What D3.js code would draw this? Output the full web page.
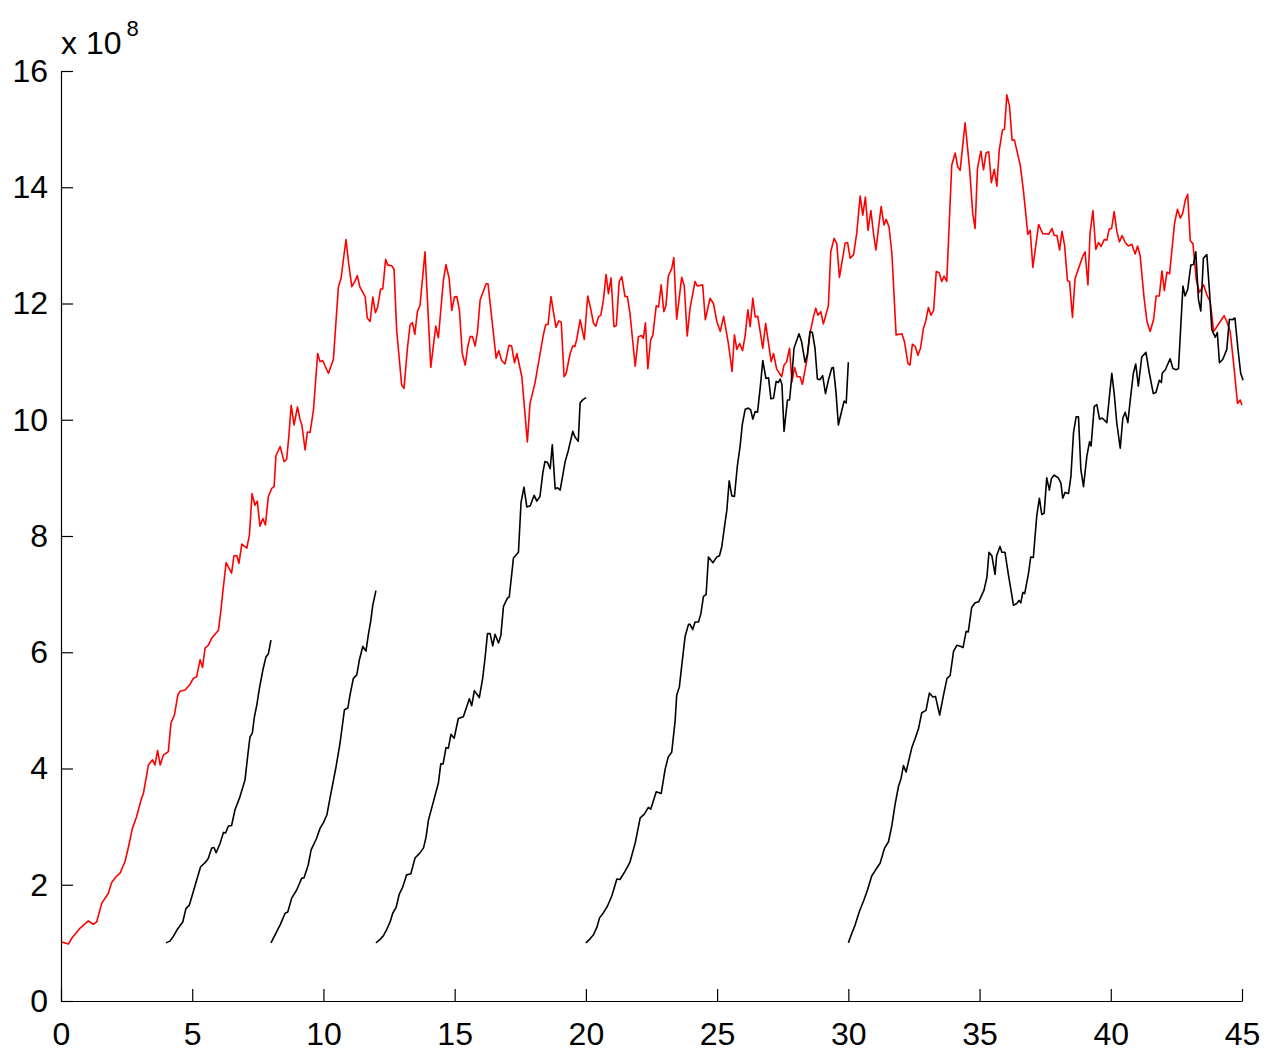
<!DOCTYPE html>
<html>
<head>
<meta charset="utf-8">
<script src="https://cdn.jsdelivr.net/npm/d3@7"></script>
<style>
  html, body { margin: 0; padding: 0; background: #fff; }
  svg { display: block; }
  text { font-family: "Liberation Sans", Arial, Helvetica, sans-serif; fill: #000; }
</style>
</head>
<body>
<svg id="chart" width="1280" height="1055"></svg>
<script>
// ---------- data (y in units of 1e8) ----------
const xTicks = [0, 5, 10, 15, 20, 25, 30, 35, 40, 45];
const yTicks = [0, 2, 4, 6, 8, 10, 12, 14, 16];
const exponentLabel = "x 10";
const exponentPower = "8";

const redX = [0,0.28,0.41,0.72,1.04,1.23,1.36,1.55,1.80,1.93,2.12,2.25,2.44,2.57,2.72,2.88,3.05,3.14,3.33,3.49,3.58,3.68,3.78,3.90,4.09,4.19,4.32,4.45,4.54,4.73,4.92,5.04,5.17,5.30,5.39,5.49,5.61,5.74,6.00,6.08,6.16,6.29,6.50,6.59,6.70,6.78,6.89,7.08,7.18,7.28,7.39,7.48,7.58,7.69,7.79,7.90,8.03,8.12,8.19,8.35,8.50,8.60,8.68,8.77,8.88,9.01,9.11,9.18,9.30,9.39,9.49,9.62,9.78,9.87,9.97,10.19,10.38,10.57,10.67,10.79,10.86,10.96,11.08,11.20,11.29,11.39,11.59,11.67,11.78,11.88,11.98,12.06,12.18,12.26,12.37,12.45,12.60,12.69,12.79,12.98,13.07,13.20,13.30,13.39,13.48,13.58,13.68,13.87,14.09,14.28,14.38,14.57,14.67,14.79,14.89,14.99,15.08,15.18,15.29,15.40,15.50,15.59,15.68,15.78,15.87,15.97,16.20,16.27,16.42,16.58,16.68,16.79,16.92,17.07,17.17,17.28,17.37,17.56,17.77,17.87,18.06,18.38,18.47,18.56,18.67,18.86,18.97,19.06,19.17,19.25,19.40,19.50,19.58,19.65,19.78,19.94,20.07,20.16,20.29,20.38,20.48,20.57,20.67,20.77,20.86,20.96,21.07,21.16,21.27,21.37,21.49,21.58,21.68,21.88,22.00,22.12,22.19,22.27,22.36,22.47,22.55,22.68,22.77,22.87,22.97,23.05,23.14,23.27,23.35,23.46,23.65,23.75,23.86,23.97,24.16,24.25,24.45,24.55,24.73,24.86,24.99,25.12,25.25,25.43,25.57,25.66,25.75,25.86,25.97,26.07,26.17,26.26,26.36,26.45,26.55,26.74,26.85,27.06,27.15,27.27,27.46,27.55,27.65,27.76,27.85,27.95,28.05,28.16,28.25,28.42,28.54,28.67,28.76,28.84,28.95,29.05,29.24,29.33,29.46,29.56,29.66,29.88,29.97,30.07,30.20,30.32,30.45,30.55,30.65,30.75,30.86,30.96,31.05,31.25,31.36,31.44,31.55,31.66,31.82,32.04,32.14,32.27,32.35,32.44,32.55,32.65,32.75,32.86,32.95,33.05,33.15,33.25,33.35,33.46,33.56,33.65,33.75,33.94,34.07,34.17,34.26,34.45,34.62,34.74,34.83,34.92,35.05,35.15,35.25,35.35,35.45,35.56,35.66,35.75,35.87,35.95,36.04,36.14,36.24,36.33,36.55,36.67,36.84,36.93,37.03,37.25,37.41,37.55,37.63,37.76,37.85,37.95,38.05,38.14,38.24,38.35,38.43,38.54,38.64,38.77,38.94,39.02,39.13,39.21,39.32,39.43,39.53,39.63,39.75,39.85,39.94,40.03,40.13,40.23,40.33,40.43,40.55,40.67,40.80,40.93,41.02,41.12,41.27,41.38,41.50,41.63,41.73,41.85,41.95,42.04,42.14,42.24,42.43,42.54,42.65,42.74,42.84,42.93,43.03,43.13,43.26,43.38,43.54,43.66,43.79,43.92,44.04,44.17,44.32,44.42,44.55,44.68,44.83,44.93,45.00];
const redY = [1.02,0.98,1.08,1.25,1.38,1.32,1.36,1.68,1.85,2.04,2.15,2.20,2.40,2.65,2.97,3.17,3.46,3.57,4.06,4.15,4.06,4.31,4.06,4.23,4.29,4.78,4.92,5.26,5.33,5.35,5.45,5.55,5.58,5.87,5.74,6.07,6.12,6.24,6.38,6.67,7.01,7.54,7.36,7.66,7.66,7.53,7.86,7.79,8.02,8.73,8.53,8.60,8.17,8.30,8.19,8.68,8.82,8.85,9.38,9.54,9.28,9.32,9.71,10.25,9.91,10.22,10.00,9.91,9.48,9.79,9.78,10.17,11.14,11.00,11.02,10.80,11.04,12.29,12.43,12.86,13.10,12.69,12.29,12.38,12.48,12.28,12.12,11.75,11.69,12.11,11.84,11.93,12.25,12.25,12.76,12.66,12.65,12.59,11.54,10.60,10.54,11.23,11.63,11.67,11.47,11.86,11.97,12.89,10.90,11.61,11.41,12.40,12.67,12.43,11.88,12.11,12.12,11.89,11.14,10.94,11.26,11.43,11.43,11.27,11.52,12.06,12.34,12.34,11.72,11.06,11.19,11.02,10.96,11.28,11.27,10.98,11.14,10.74,9.62,10.28,10.63,11.46,11.64,11.64,12.12,11.59,11.70,11.68,10.74,10.80,11.14,11.27,11.26,11.38,11.72,11.38,12.13,11.96,11.66,11.61,11.77,11.80,12.07,12.50,12.17,12.44,11.60,11.62,12.38,12.46,12.12,12.12,11.83,10.92,11.43,11.45,11.40,11.67,10.88,11.38,11.45,11.96,11.94,12.32,11.86,11.96,12.47,12.60,12.79,11.73,12.45,12.30,11.44,11.92,12.38,12.30,12.32,11.72,12.09,12.00,11.69,11.52,11.78,11.31,10.83,11.46,11.21,11.31,11.19,11.45,11.89,11.60,12.09,11.77,11.78,11.23,11.66,11.00,11.14,10.87,10.74,10.94,11.00,11.23,10.65,10.90,10.74,10.74,10.61,11.03,11.49,11.77,11.92,11.80,11.86,11.65,11.96,12.89,13.12,13.03,12.45,13.04,13.05,12.78,12.84,13.21,13.85,13.52,13.83,13.26,13.60,13.20,12.92,13.67,13.35,13.45,13.32,12.86,11.46,11.48,11.34,10.97,10.94,11.30,11.26,11.11,11.23,11.57,11.70,11.93,11.80,11.88,12.55,12.53,12.38,12.47,12.38,14.38,14.59,14.35,14.29,15.11,14.32,13.55,13.29,14.32,14.62,14.30,14.59,14.61,14.08,14.31,14.02,14.64,14.98,15.00,15.59,15.40,14.81,14.81,14.38,13.95,13.19,13.26,12.62,13.36,13.20,13.20,13.19,13.29,13.17,13.17,12.92,13.24,13.00,12.39,12.38,11.76,12.43,12.60,12.82,12.89,12.32,13.21,13.60,12.93,13.05,12.98,13.10,13.09,13.28,13.29,13.58,13.24,13.06,13.17,13.05,12.99,13.02,12.85,12.99,12.82,12.09,11.69,11.52,11.72,12.13,12.13,12.56,12.22,12.54,12.51,13.38,13.62,13.47,13.55,13.78,13.88,13.08,13.03,12.40,12.19,12.32,12.15,12.03,11.52,11.60,11.69,11.79,11.69,11.52,10.97,10.28,10.34,10.25];

const black1X = [4.00,4.15,4.28,4.43,4.64,4.76,4.89,5.04,5.17,5.32,5.49,5.61,5.74,5.83,5.91,6.06,6.19,6.27,6.38,6.50,6.63,6.80,7.01,7.11,7.20,7.29,7.37,7.46,7.56,7.69,7.81,7.90,8.00];
const black1Y = [1.00,1.03,1.11,1.23,1.36,1.59,1.65,1.88,2.08,2.31,2.38,2.45,2.63,2.64,2.55,2.71,2.90,2.89,3.01,3.02,3.29,3.49,3.80,4.20,4.54,4.61,4.89,5.09,5.38,5.69,5.92,5.97,6.21];

const black2X = [8.00,8.16,8.35,8.54,8.64,8.79,8.98,9.17,9.26,9.42,9.53,9.74,9.87,10.00,10.13,10.25,10.48,10.63,10.80,10.93,11.01,11.14,11.27,11.37,11.50,11.62,11.71,11.80,11.88,12.00];
const black2Y = [1.00,1.14,1.31,1.51,1.53,1.77,1.91,2.11,2.12,2.34,2.60,2.80,2.97,3.07,3.20,3.49,4.03,4.43,5.01,5.04,5.26,5.55,5.61,5.87,6.10,6.02,6.30,6.53,6.81,7.06];

const black3X = [12.00,12.16,12.28,12.41,12.54,12.64,12.77,12.89,13.02,13.17,13.33,13.49,13.66,13.81,13.91,14.00,14.19,14.38,14.47,14.56,14.67,14.76,14.86,14.98,15.14,15.33,15.56,15.65,15.75,15.94,16.07,16.16,16.25,16.35,16.45,16.54,16.67,16.76,16.86,17.01,17.08,17.24,17.43,17.53,17.64,17.75,17.88,18.03,18.13,18.25,18.36,18.44,18.53,18.64,18.72,18.83,18.92,19.02,19.21,19.33,19.50,19.59,19.71,19.78,19.90,20.01];
const black3Y = [1.00,1.06,1.12,1.23,1.36,1.51,1.61,1.84,1.96,2.17,2.19,2.46,2.54,2.63,2.82,3.11,3.43,3.75,4.08,4.08,4.36,4.35,4.59,4.52,4.86,4.89,5.20,5.08,5.34,5.22,5.56,5.91,6.32,6.32,6.11,6.31,6.16,6.29,6.79,6.93,6.95,7.62,7.72,8.58,8.84,8.50,8.52,8.70,8.60,8.68,9.09,9.28,9.27,9.16,9.57,8.81,8.83,8.79,9.28,9.47,9.80,9.70,9.63,10.29,10.35,10.38];

const black4X = [20.00,20.16,20.29,20.42,20.52,20.67,20.82,20.99,21.18,21.30,21.49,21.68,21.88,22.07,22.22,22.38,22.47,22.68,22.87,23.02,23.14,23.27,23.40,23.46,23.56,23.65,23.78,23.91,23.97,24.07,24.16,24.29,24.38,24.48,24.58,24.67,24.84,24.99,25.09,25.18,25.30,25.37,25.46,25.56,25.66,25.77,25.88,25.96,26.07,26.19,26.28,26.36,26.45,26.54,26.64,26.74,26.86,26.96,27.05,27.15,27.25,27.33,27.40,27.47,27.55,27.68,27.76,27.85,27.93,28.12,28.22,28.35,28.44,28.54,28.63,28.73,28.82,28.92,29.02,29.13,29.24,29.37,29.43,29.53,29.62,29.75,29.84,29.92,30.00];
const black4Y = [1.00,1.07,1.14,1.27,1.43,1.52,1.63,1.81,2.10,2.09,2.23,2.39,2.72,3.15,3.21,3.33,3.30,3.60,3.57,3.99,4.20,4.28,4.82,5.26,5.40,5.76,6.27,6.48,6.48,6.39,6.52,6.52,6.66,6.96,6.99,7.64,7.54,7.64,7.66,7.82,8.22,8.44,8.95,8.69,8.68,9.20,9.56,9.92,10.18,10.20,10.17,10.01,10.14,10.13,10.54,11.02,10.71,10.72,10.36,10.37,10.66,10.64,10.70,10.61,9.80,10.34,10.34,10.76,11.23,11.48,11.34,10.99,11.12,11.52,11.50,11.23,10.70,10.69,10.76,10.45,10.68,10.89,10.90,10.47,9.91,10.16,10.32,10.29,10.99];

const black5X = [30.00,30.13,30.26,30.42,30.58,30.73,30.89,31.06,31.21,31.38,31.53,31.66,31.78,31.91,32.01,32.10,32.20,32.42,32.55,32.67,32.80,32.96,33.09,33.22,33.32,33.48,33.63,33.76,33.88,34.01,34.14,34.29,34.37,34.49,34.57,34.70,34.83,34.97,35.17,35.28,35.36,35.47,35.59,35.65,35.78,35.85,35.97,36.10,36.19,36.29,36.42,36.50,36.57,36.65,36.72,36.87,36.95,37.05,37.18,37.28,37.37,37.46,37.56,37.66,37.74,37.84,38.00,38.10,38.17,38.26,38.39,38.48,38.58,38.68,38.77,38.86,38.96,39.09,39.19,39.25,39.37,39.47,39.57,39.67,39.85,39.95,40.04,40.13,40.23,40.36,40.46,40.55,40.65,40.74,40.86,40.95,41.05,41.18,41.34,41.47,41.62,41.72,41.85,41.93,41.96,42.08,42.26,42.37,42.49,42.58,42.75,42.83,42.93,43.05,43.15,43.24,43.34,43.43,43.53,43.66,43.76,43.85,43.98,44.06,44.14,44.27,44.42,44.52,44.63,44.73,44.85,44.95,45.04];
const black5Y = [1.00,1.16,1.31,1.54,1.72,1.91,2.15,2.27,2.37,2.63,2.74,3.02,3.38,3.69,3.83,4.05,3.94,4.36,4.52,4.68,4.96,5.00,5.30,5.23,5.24,4.92,5.27,5.55,5.60,6.02,6.12,6.10,6.08,6.36,6.35,6.77,6.85,6.87,7.07,7.29,7.72,7.66,7.34,7.66,7.82,7.72,7.72,7.33,7.09,6.81,6.84,6.89,6.85,7.03,7.01,7.37,7.64,7.63,8.35,8.65,8.37,8.39,9.00,8.79,8.99,9.05,9.00,8.91,8.65,8.75,8.73,9.02,9.78,10.05,10.05,9.14,8.85,9.38,9.62,9.55,10.23,10.26,10.01,10.03,9.95,10.41,10.80,10.45,9.94,9.51,10.03,10.13,9.95,10.33,10.80,10.96,10.58,11.08,11.16,10.80,10.45,10.47,10.68,10.64,10.80,10.86,11.05,10.88,10.86,10.88,12.30,12.13,12.24,12.66,12.67,12.89,12.07,11.87,12.78,12.84,12.22,11.55,11.42,11.50,10.98,11.04,11.21,11.73,11.72,11.75,11.20,10.80,10.68];

// ---------- layout ----------
const svg = d3.select("#chart");
const x = d3.scaleLinear().domain([0, 45]).range([61, 1242]);
const y = d3.scaleLinear().domain([0, 16]).range([1001, 71]);

const zip = (xs, ys) => xs.map((v, i) => [v, ys[i]]);
const line = d3.line().x(d => x(d[0])).y(d => y(d[1]));

const series = [
  { data: zip(redX, redY), color: "#ff0000" },
  { data: zip(black1X, black1Y), color: "#000000" },
  { data: zip(black2X, black2Y), color: "#000000" },
  { data: zip(black3X, black3Y), color: "#000000" },
  { data: zip(black4X, black4Y), color: "#000000" },
  { data: zip(black5X, black5Y), color: "#000000" }
];

svg.append("g").selectAll("path")
  .data(series)
  .join("path")
  .attr("fill", "none")
  .attr("stroke", d => d.color)
  .attr("stroke-width", 1.6)
  .attr("stroke-linejoin", "round")
  .attr("d", d => line(d.data));

// ---------- axes ----------
const xAxis = d3.axisBottom(x).tickValues(xTicks).tickFormat(d3.format("d"))
  .tickSizeInner(-12).tickSizeOuter(0).tickPadding(21);
const yAxis = d3.axisLeft(y).tickValues(yTicks).tickFormat(d3.format("d"))
  .tickSizeInner(-12).tickSizeOuter(0).tickPadding(13);

const gx = svg.append("g").attr("transform", "translate(0,1001)").call(xAxis);
const gy = svg.append("g").attr("transform", "translate(61,0)").call(yAxis);

[gx, gy].forEach(g => {
  g.selectAll("path.domain").attr("stroke", "#000").attr("stroke-width", 1.2);
  g.selectAll(".tick line").attr("stroke", "#000").attr("stroke-width", 1.2);
  g.selectAll(".tick text")
    .style("font-family", "'Liberation Sans', Arial, Helvetica, sans-serif")
    .style("font-size", "32px")
    .attr("fill", "#000");
});

// exponent label
const expo = svg.append("text")
  .attr("x", 61).attr("y", 54)
  .style("font-size", "32px");
expo.append("tspan").text(exponentLabel);
expo.append("tspan").attr("dx", 5).attr("dy", -18).style("font-size", "22px").text(exponentPower);
</script>
</body>
</html>
